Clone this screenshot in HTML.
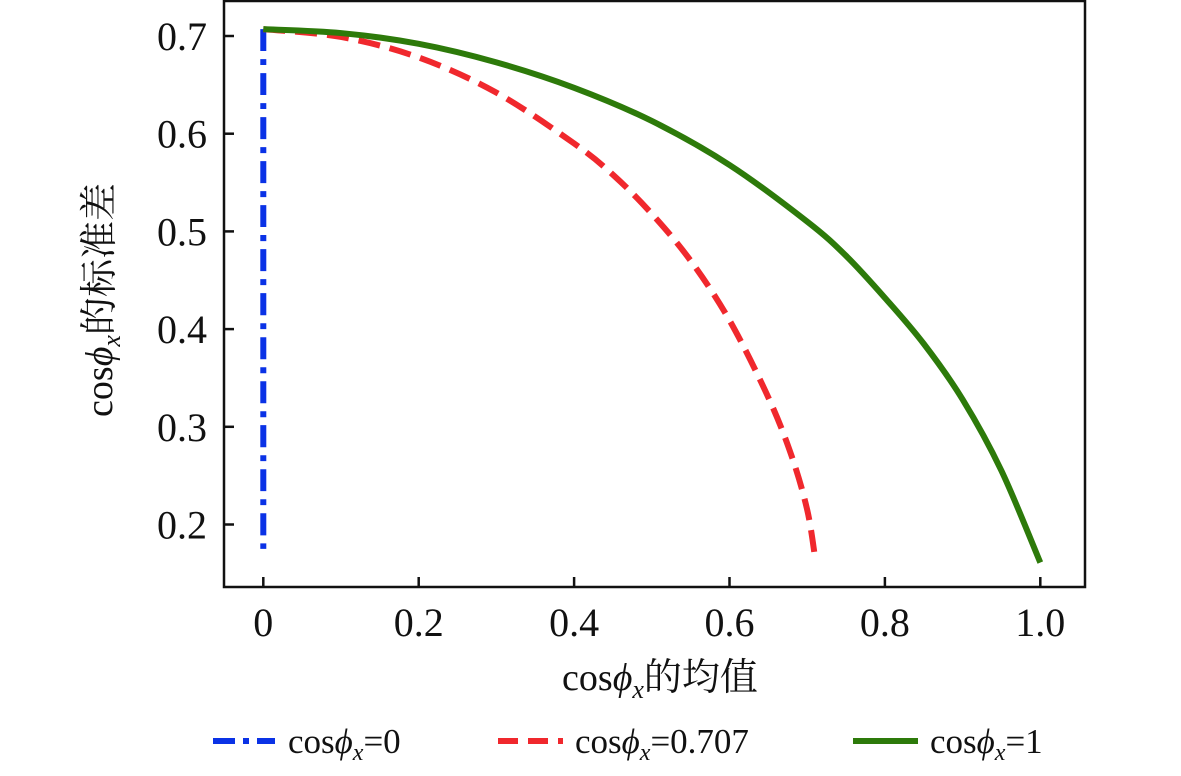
<!DOCTYPE html>
<html><head><meta charset="utf-8"><style>
body{margin:0;background:#fff;}
svg text{font-family:"Liberation Serif","Noto Serif CJK SC",serif;fill:#111;}
</style></head><body>
<svg width="1181" height="771">
<g id="plot"></g>
<rect x="224" y="1" width="861" height="586" fill="none" stroke="#111" stroke-width="2.5"/>
<g id="ticks"></g>
<text x="660" y="690" font-size="38" text-anchor="middle">cos<tspan font-style="italic">ϕ</tspan><tspan font-style="italic" font-size="26" dy="8">x</tspan><tspan dy="-8">的均值</tspan></text>
<text transform="translate(112,300) rotate(-90)" font-size="38" text-anchor="middle">cos<tspan font-style="italic">ϕ</tspan><tspan font-style="italic" font-size="26" dy="8">x</tspan><tspan dy="-8">的标准差</tspan></text>
<g>
<line x1="213" y1="741" x2="275" y2="741" stroke="#0a32e6" stroke-width="6" stroke-dasharray="22,8,6,8"/>
<text x="288" y="753" font-size="35">cos<tspan font-style="italic">ϕ</tspan><tspan font-style="italic" font-size="24" dy="7">x</tspan><tspan dy="-7">=0</tspan></text>
<line x1="498" y1="741" x2="563" y2="741" stroke="#f0282d" stroke-width="6" stroke-dasharray="20,10"/>
<text x="575" y="753" font-size="35">cos<tspan font-style="italic">ϕ</tspan><tspan font-style="italic" font-size="24" dy="7">x</tspan><tspan dy="-7">=0.707</tspan></text>
<line x1="853" y1="741" x2="918" y2="741" stroke="#2d7a0a" stroke-width="6"/>
<text x="930" y="753" font-size="35">cos<tspan font-style="italic">ϕ</tspan><tspan font-style="italic" font-size="24" dy="7">x</tspan><tspan dy="-7">=1</tspan></text>
</g>
</svg>
<script>
const xTicks=[0,0.2,0.4,0.6,0.8,1.0];
const xTickLabels=["0","0.2","0.4","0.6","0.8","1.0"];
const yTicks=[0.2,0.3,0.4,0.5,0.6,0.7];
const yTickLabels=["0.2","0.3","0.4","0.5","0.6","0.7"];
const blueX=[0,0];
const blueY=[0.707,0.175];
const redX=[0,0.1,0.2,0.3,0.4,0.45,0.5,0.55,0.6,0.65,0.68,0.7,0.71];
const redY=[0.707,0.699,0.678,0.642,0.590,0.558,0.518,0.470,0.409,0.330,0.270,0.215,0.167];
const greenX=[0,0.1,0.2,0.3,0.4,0.5,0.6,0.7,0.75,0.8,0.85,0.9,0.95,1.0];
const greenY=[0.707,0.703,0.692,0.673,0.647,0.613,0.568,0.510,0.475,0.432,0.385,0.328,0.255,0.161];
const X=v=>263.3+v*777, Y=v=>36+(0.7-v)*977;
const NS="http://www.w3.org/2000/svg";
const plot=document.getElementById('plot'), tk=document.getElementById('ticks');
function mk(tag,at,parent){const e=document.createElementNS(NS,tag);for(const k in at)e.setAttribute(k,at[k]);parent.appendChild(e);return e;}
function pathD(xs,ys){
 const P=xs.map((x,i)=>[X(x),Y(ys[i])]);
 let d='M'+P[0][0]+','+P[0][1];
 for(let i=0;i<P.length-1;i++){
  const p0=P[Math.max(i-1,0)],p1=P[i],p2=P[i+1],p3=P[Math.min(i+2,P.length-1)];
  const c1=[p1[0]+(p2[0]-p0[0])/6,p1[1]+(p2[1]-p0[1])/6];
  const c2=[p2[0]-(p3[0]-p1[0])/6,p2[1]-(p3[1]-p1[1])/6];
  d+=' C'+c1+' '+c2+' '+p2;
 }
 return d;
}
function series(xs,ys,color,dash,name){
 const p=mk('path',{d:pathD(xs,ys),fill:'none',stroke:color,'stroke-width':6,'stroke-dasharray':dash},plot);
 
 
}
series(blueX,blueY,'#0a32e6','22,8,6,8','series-cos-0');
series(redX,redY,'#f0282d','22,10','series-cos-0707');
series(greenX,greenY,'#2d7a0a','none','series-cos-1');
xTicks.forEach((v,i)=>{
 const l=mk('line',{x1:X(v),x2:X(v),y1:587,y2:577,stroke:'#111','stroke-width':2.5},tk);
 
 
 const t=mk('text',{x:X(v),y:636,'font-size':40,'text-anchor':'middle'},tk);t.textContent=xTickLabels[i];
 
 
});
yTicks.forEach((v,i)=>{
 const l=mk('line',{x1:224,x2:234,y1:Y(v),y2:Y(v),stroke:'#111','stroke-width':2.5},tk);
 
 
 const t=mk('text',{x:207,y:Y(v)+14,'font-size':40,'text-anchor':'end'},tk);t.textContent=yTickLabels[i];
 
 
});
</script>
</body></html>
